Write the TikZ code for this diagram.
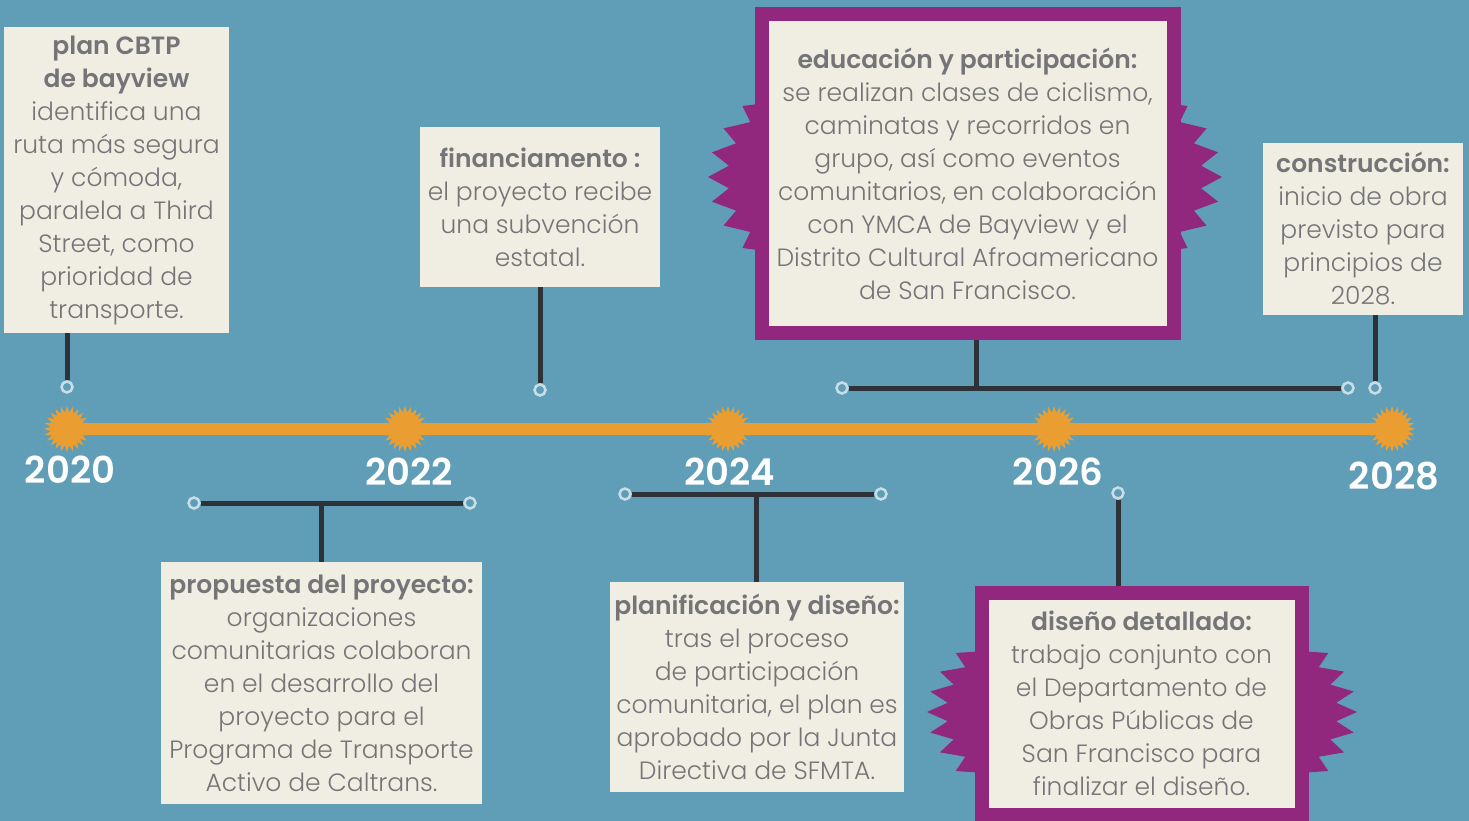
\documentclass[tikz,border=0pt]{standalone}
\usepackage{fontspec}
\setmainfont{Poppins}[UprightFont=* Light, BoldFont=* SemiBold]
\usetikzlibrary{shapes.geometric}
\definecolor{bgblue}{RGB}{96,158,184}
\definecolor{cream}{RGB}{240,238,226}
\definecolor{textgray}{RGB}{117,117,120}
\definecolor{darkpurple}{RGB}{146,40,125}
\definecolor{darkorange}{RGB}{234,158,50}
\definecolor{darkline}{RGB}{45,50,56}
\definecolor{lightring}{RGB}{200,222,230}

\tikzset{
  card/.style={fill=cream, text=textgray, align=center, inner sep=0pt, font=\fontsize{25}{33}\selectfont},
  framed/.style={card, draw=darkpurple, line width=14pt},
  stem/.style={darkline, line width=5pt},
  ring/.style={circle, draw=lightring, fill=bgblue, line width=2.5pt, minimum size=11pt, inner sep=0pt},
  burst/.style={star, star points=24, star point ratio=1.4, fill=darkorange, minimum size=46pt, inner sep=0pt},
  year/.style={text=white, font=\bfseries\fontsize{37}{37}\selectfont}
}

\begin{document}
\begin{tikzpicture}[x=1pt, y=-1pt]
\useasboundingbox (0,0) rectangle (1469,821);
\fill[bgblue] (0,0) rectangle (1469,821);

% timeline
\coordinate (t0) at (67,429);
\coordinate (t1) at (1392,429);
\draw[darkorange, line width=12pt] (t0) -- (t1);
\node (b2020) [burst] at (67,429) {};
\node (b2022) [burst] at (405,429) {};
\node (b2024) [burst] at (728,429) {};
\node (b2026) [burst] at (1054,429) {};
\node (b2028) [burst] at (1392,429) {};
\node (y2020) [year] at (70,470) {2020};
\node (y2022) [year] at (409,472) {2022};
\node (y2024) [year] at (730,472) {2024};
\node (y2026) [year] at (1058,472) {2026};
\node (y2028) [year] at (1394,476) {2028};

% purple bursts behind the framed cards
\fill[darkpurple] plot[samples=73, domain=0:72, variable=\t]
  ({965+(257-mod(round(\t),2)*20)*cos(\t*5)}, {177+(142-mod(round(\t),2)*12)*sin(\t*5)}) -- cycle;
\fill[darkpurple] plot[samples=73, domain=0:72, variable=\t]
  ({1142+(215-mod(round(\t),2)*20)*cos(\t*5)}, {712+(118-mod(round(\t),2)*12)*sin(\t*5)}) -- cycle;

% cards above the line
\node (plan) [card, minimum width=225pt, minimum height=306pt] at (116.5,180) {
\textbf{plan CBTP}\\ \textbf{de bayview}\\ identifica una\\ ruta más segura\\ y cómoda,\\ paralela a Third\\ Street, como\\ prioridad de\\ transporte.
};
\node (fund) [card, minimum width=240pt, minimum height=160pt] at (540,207) {
\textbf{financiamento :}\\ el proyecto recibe\\ una subvención\\ estatal.
};
\node (edu) [framed, minimum width=412pt, minimum height=319pt] at (967.5,173.5) {
\textbf{educación y participación:}\\ se realizan clases de ciclismo,\\ caminatas y recorridos en\\ grupo, así como eventos\\ comunitarios, en colaboración\\ con YMCA de Bayview y el\\ Distrito Cultural Afroamericano\\ de San Francisco.
};
\node (build) [card, minimum width=200pt, minimum height=172pt] at (1363,229) {
\textbf{construcción:}\\ inicio de obra\\ previsto para\\ principios de\\ 2028.
};

% cards below the line
\node (prop) [card, minimum width=321pt, minimum height=242pt] at (321.5,683) {
\textbf{propuesta del proyecto:}\\ organizaciones\\ comunitarias colaboran\\ en el desarrollo del\\ proyecto para el\\ Programa de Transporte\\ Activo de Caltrans.
};
\node (design) [card, minimum width=294pt, minimum height=210pt] at (757,687) {
\textbf{planificación y diseño:}\\ tras el proceso\\ de participación\\ comunitaria, el plan es\\ aprobado por la Junta\\ Directiva de SFMTA.
};
\node (detail) [framed, minimum width=320pt, minimum height=222pt] at (1141.5,703.5) {
\textbf{diseño detallado:}\\ trabajo conjunto con\\ el Departamento de\\ Obras Públicas de\\ San Francisco para\\ finalizar el diseño.
};

% rings
\node (r1) [ring] at (67,387) {};
\node (r2) [ring] at (540,390) {};
\node (r3a) [ring] at (842,388) {};
\node (r3b) [ring] at (1348,388) {};
\node (r4) [ring] at (1375,388) {};
\node (r5a) [ring] at (194,503) {};
\node (r5b) [ring] at (470,503) {};
\node (r6a) [ring] at (625,494) {};
\node (r6b) [ring] at (881,494) {};
\node (r7) [ring] at (1118,493) {};
\coordinate (j3) at (976,388);
\coordinate (j5) at (321,503);
\coordinate (j6) at (756,494);

% stems
\draw[stem] (r1) -- (r1 |- plan.south);
\draw[stem] (r2) -- (r2 |- fund.south);
\draw[stem] (r3a) -- (r3b);
\draw[stem] (j3) -- (j3 |- edu.south);
\draw[stem] (r4) -- (r4 |- build.south);
\draw[stem] (r5a) -- (r5b);
\draw[stem] (j5) -- (j5 |- prop.north);
\draw[stem] (r6a) -- (r6b);
\draw[stem] (j6) -- (j6 |- design.north);
\draw[stem] (r7) -- (r7 |- detail.north);
\end{tikzpicture}
\end{document}
